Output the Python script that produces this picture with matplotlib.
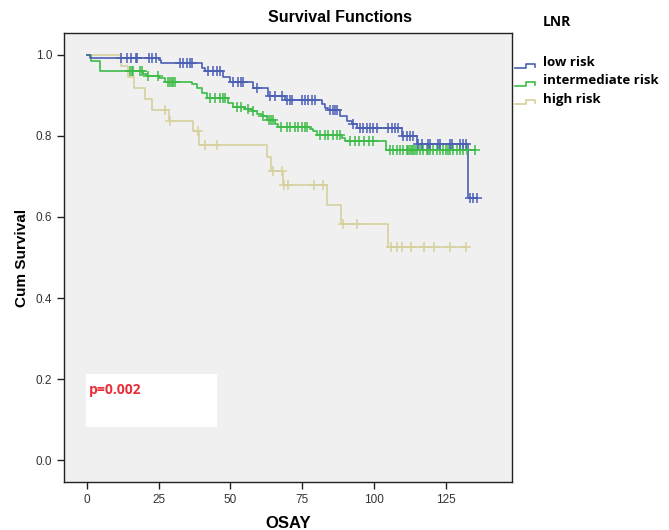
import numpy as np
import matplotlib
matplotlib.use("Agg")
import matplotlib.pyplot as plt
from matplotlib.lines import Line2D
from matplotlib.patches import Rectangle

# Kaplan-Meier step data (event times and survival after each step), plus censor times
groups = ["low risk", "intermediate risk", "high risk"]

low_times = [0, 1.0, 25.0, 25.7, 40.0, 41.2, 47.5, 50.0, 58.0, 63.2, 69.0, 81.8, 82.9,
             84.0, 88.1, 90.5, 92.2, 93.9, 109.6, 114.8, 132.6]
low_surv = [1.0, 0.993, 0.987, 0.980, 0.967, 0.959, 0.946, 0.934, 0.918, 0.899, 0.889,
            0.878, 0.870, 0.864, 0.848, 0.838, 0.830, 0.819, 0.801, 0.779, 0.647]
low_cens = [11.8, 13.9, 15.3, 17.1, 17.6, 21.7, 22.8, 24.0, 32.5, 33.6, 34.8, 35.9, 36.5,
            42.3, 44.1, 45.2, 46.4, 51.0, 52.8, 53.6, 54.5, 59.1, 63.8, 65.5, 67.8, 69.6,
            70.7, 71.3, 74.8, 75.9, 77.1, 78.3, 79.4, 84.7, 85.8, 86.4, 87.0, 92.5, 95.1,
            96.2, 97.4, 98.5, 99.7, 100.9, 104.9, 106.1, 107.3, 108.5, 110.2, 111.3, 112.5,
            113.6, 115.4, 116.6, 118.9, 119.5, 122.3, 122.9, 126.4, 127.0, 129.9, 131.0,
            132.0, 133.4, 134.5, 135.7]

mid_times = [0, 1.6, 4.6, 19.5, 20.9, 25.3, 27.2, 36.5, 38.3, 40.0, 41.8, 49.3, 51.0,
             55.1, 57.4, 59.2, 60.9, 62.6, 65.5, 66.7, 77.7, 78.8, 80.3, 88.7, 89.9, 104.0]
mid_surv = [1.0, 0.985, 0.961, 0.954, 0.948, 0.942, 0.934, 0.928, 0.918, 0.905, 0.893,
            0.881, 0.872, 0.866, 0.861, 0.855, 0.848, 0.840, 0.829, 0.823, 0.817, 0.811,
            0.802, 0.794, 0.787, 0.766]
mid_cens = [15.1, 15.7, 16.2, 18.5, 19.1, 21.4, 24.9, 28.4, 29.0, 29.6, 30.1, 30.7, 42.9,
            44.6, 46.4, 47.6, 48.1, 52.3, 53.8, 56.0, 58.0, 61.5, 63.5, 64.2, 64.9, 67.5,
            69.6, 70.7, 72.5, 73.6, 74.8, 75.9, 76.7, 81.2, 82.9, 84.1, 85.8, 87.0, 88.1,
            91.5, 93.2, 94.9, 96.6, 98.2, 99.8, 105.5, 106.7, 107.9, 109.0, 110.2, 111.3,
            111.9, 112.5, 113.1, 113.6, 114.2, 114.8, 115.9, 117.1, 118.3, 118.9, 119.5,
            120.6, 121.8, 122.9, 124.1, 125.2, 125.8, 126.4, 127.6, 128.7, 129.9, 131.0,
            132.2, 135.1]

high_times = [0, 11.8, 14.4, 16.5, 20.3, 22.6, 28.6, 37.0, 39.1, 62.7, 64.0, 68.2, 83.7,
              88.4, 104.9]
high_surv = [1.0, 0.973, 0.946, 0.919, 0.892, 0.865, 0.838, 0.811, 0.778, 0.747, 0.714,
             0.679, 0.630, 0.582, 0.525]
high_cens = [27.3, 28.9, 38.8, 41.2, 45.2, 64.7, 67.8, 68.8, 69.9, 79.1, 82.1, 89.1, 93.9,
             105.9, 107.9, 109.6, 112.7, 117.4, 120.9, 126.4, 132.0]

x_ticks = [0, 25, 50, 75, 100, 125]
y_ticks = [0.0, 0.2, 0.4, 0.6, 0.8, 1.0]
p_text = "p=0.002"

colors = {"low risk": "#4b5fb4", "intermediate risk": "#3dbb47", "high risk": "#d6d09c"}

fig = plt.figure(figsize=(6.69, 5.30), dpi=100)
fig.patch.set_facecolor("white")
ax = fig.add_axes([64 / 669, 1 - 482 / 530, 448 / 669, 449 / 530])
ax.set_facecolor("#f0f0f0")


def draw_km(times, surv, cens, color):
    t = np.asarray(times, float)
    s = np.asarray(surv, float)
    c = np.asarray(cens, float)
    end = max(t[-1], c.max() if len(c) else t[-1])
    tt = np.append(t, end)
    ss = np.append(s, s[-1])
    ax.step(tt, ss, where="post", color=color, lw=1.2, zorder=3)
    idx = np.searchsorted(t, c, side="right") - 1
    ax.plot(c, s[idx], ls="none", marker="+", ms=7, mew=1.1, color=color, zorder=4)


draw_km(high_times, high_surv, high_cens, colors["high risk"])
draw_km(mid_times, mid_surv, mid_cens, colors["intermediate risk"])
draw_km(low_times, low_surv, low_cens, colors["low risk"])

ax.set_xlim(-7.9, 148.0)
ax.set_ylim(-0.054, 1.054)
ax.set_xticks(x_ticks)
ax.set_yticks(y_ticks)
ax.set_yticklabels([f"{v:.1f}" for v in y_ticks])
ax.tick_params(direction="out", length=5, width=1, colors="#222222", labelsize=8.5,
               labelcolor="#333333")
for sp in ax.spines.values():
    sp.set_color("#222222")
    sp.set_linewidth(1.0)
for lab in ax.get_xticklabels() + ax.get_yticklabels():
    lab.set_family("Liberation Sans")

ax.set_xlabel("OSAY", fontsize=12, fontweight="bold", family="Liberation Sans", labelpad=7)
ax.set_ylabel("Cum Survival", fontsize=11, fontweight="bold", family="Liberation Sans",
              labelpad=5)

# p-value box
ax.add_patch(Rectangle((-0.2, 0.082), 45.4, 0.130, facecolor="white", edgecolor="none",
                       zorder=2))
ax.text(0.9, 0.172, p_text, color="#e8303a", fontsize=10, fontweight="bold",
        family="Open Sans", va="center", ha="left", zorder=5)

fig.text(340 / 669, 1 - 18 / 530, "Survival Functions", ha="center", va="center",
         fontsize=11.5, fontweight="bold", family="Liberation Sans")

# legend drawn outside the axes
fig.text(543 / 669, 1 - 22 / 530, "LNR", ha="left", va="center", fontsize=10,
         fontweight="bold", family="Open Sans")
legend_y = [63, 81, 99]
for name, ypx in zip(groups, legend_y):
    xs = np.array([515, 526, 526, 535, 535]) / 669
    ys = 1 - np.array([ypx + 5, ypx + 5, ypx + 1, ypx + 1, ypx + 4]) / 530
    fig.add_artist(Line2D(xs, ys, color=colors[name], lw=1.2))
    fig.text(543 / 669, 1 - ypx / 530, name, ha="left", va="center", fontsize=9.5,
             fontweight="bold", family="Open Sans")

fig.savefig("out.png", dpi=100, facecolor="white")
